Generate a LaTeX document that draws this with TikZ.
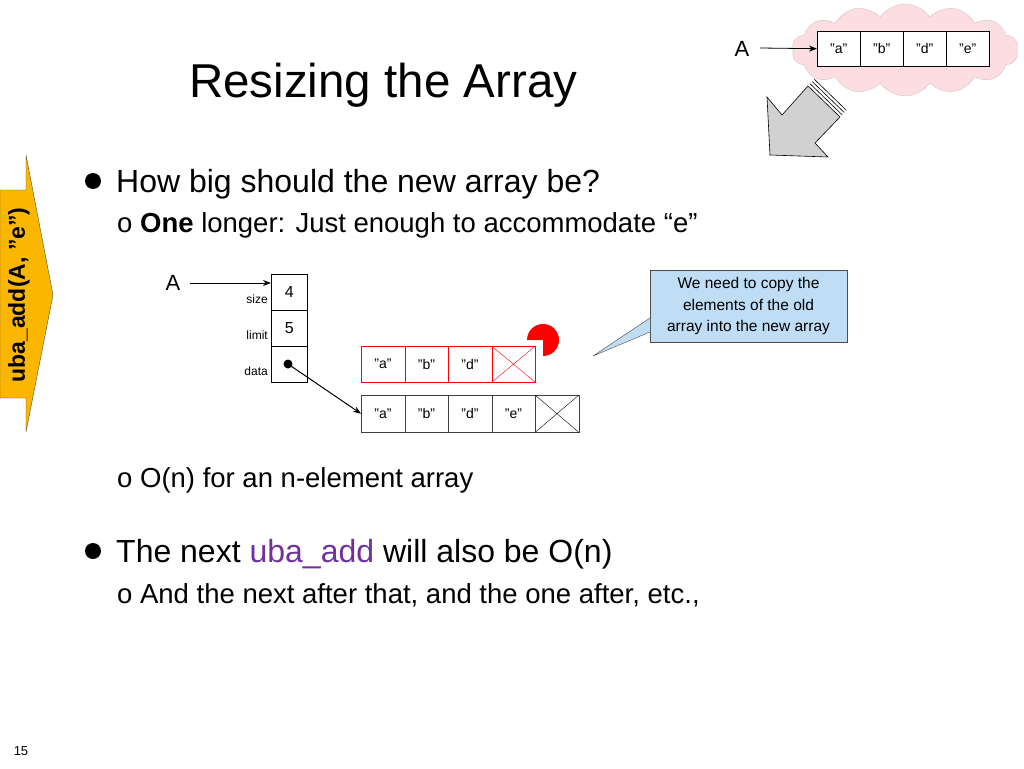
\documentclass[tikz,border=0pt]{standalone}
\usepackage{fontspec}
\setmainfont{Liberation Sans}
\usetikzlibrary{shapes.symbols,arrows.meta}
\definecolor{pinkc}{RGB}{252,222,226}
\definecolor{yel}{RGB}{251,183,0}
\definecolor{callb}{RGB}{191,222,245}
\definecolor{purp}{RGB}{112,48,160}
\begin{document}
\begin{tikzpicture}[x=1pt,y=-1pt,
  cell/.style={draw,minimum width=43.5pt,minimum height=36pt,inner sep=0pt,font=\fontsize{14}{16}\selectfont,anchor=north west},
  scell/.style={draw,minimum width=36pt,minimum height=36pt,inner sep=0pt,font=\fontsize{16}{18}\selectfont,anchor=north west},
  lbl/.style={font=\fontsize{12}{14}\selectfont,anchor=base east,inner sep=0pt},
  big/.style={font=\fontsize{32}{38}\selectfont,anchor=base west,inner sep=0pt},
  sub/.style={font=\fontsize{27.5}{33}\selectfont,anchor=base west,inner sep=0pt},
  ptr/.style={-{Stealth[length=8pt,width=6pt]},line width=1pt}]
\useasboundingbox (0,0) rectangle (1024,768);
% title
\node[font=\fontsize{47.5}{56}\selectfont,anchor=base west,inner sep=0pt] (title) at (189,97) {Resizing the Array};
% cloud
\node[cloud,cloud puffs=14,cloud puff arc=110,aspect=2.6,fill=pinkc,draw=pinkc!70!gray,minimum width=226pt,minimum height=92pt] (cl) at (905,50) {};
\foreach \t [count=\i from 0] in {"a","b","d","e"}
  \node[cell,fill=white,minimum width=43pt,minimum height=35pt] (t\i) at (817+43*\i,31) {\t};
\node[font=\fontsize{22}{26}\selectfont,inner sep=0pt] (tA) at (742,49) {A};
\coordinate (tAs) at (760,48);
\draw[ptr,line width=0.8pt] (tAs) -- (t0.west);
% gray arrow
\draw[fill=black!18,line width=0.6pt] (808,86) -- (782,115) -- (767,97) -- (770,155) -- (828,157) -- (815,143) -- (840,117) -- cycle;
\foreach \d in {3,6,9} \draw[line width=0.6pt] (808+\d*0.7,86-\d*0.75) -- (840+\d*0.7,117-\d*0.75);
% yellow arrow
\draw[fill=yel,draw=black!70] (0,190) -- (26,190) -- (26,155) -- (53,295) -- (26,432) -- (26,398) -- (0,398) -- cycle;
\node[rotate=90,font=\bfseries\fontsize{23}{26}\selectfont,inner sep=0pt] (ua) at (19,295) {uba\_add(A, "e")};
% bullets
\fill (93,181) circle (8);
\node[big] (b1) at (116,192) {How big should the new array be?};
\node[sub] (s1) at (117,232) {o \textbf{One} longer: Just enough to accommodate “e”};
\node[sub] (s2) at (117,487) {o O(n) for an n-element array};
\fill (93,551) circle (8);
\node[big] (b2) at (116,562) {The next \textcolor{purp}{uba\_add} will also be O(n)};
\node[sub] (s3) at (117,603) {o And the next after that, and the one after, etc.,};
\node[font=\fontsize{13}{15}\selectfont] (pg) at (21,751) {15};
% struct
\node[scell] (c1) at (271,274) {4};
\node[scell] (c2) at (271,310) {5};
\node[scell] (c3) at (271,346) {};
\node[lbl] (l1) at (268,303) {size};
\node[lbl] (l2) at (268,339) {limit};
\node[lbl] (l3) at (268,375) {data};
\node[font=\fontsize{22}{26}\selectfont,inner sep=0pt] (A) at (173,283) {A};
\coordinate (As) at (190,283);
\coordinate (Ae) at (271,283);
\draw[ptr] (As) -- (Ae);
\fill (288,364) circle (4.5) coordinate (dot);
% red array
\foreach \t [count=\i from 0] in {"a","b","d",{}}
  \node[cell,draw=red,minimum width=43.5pt] (r\i) at (361+43.5*\i,346) {\t};
\draw[red] (r3.north west) -- (r3.south east) (r3.north east) -- (r3.south west);
% black array
\foreach \t [count=\i from 0] in {"a","b","d","e",{}}
  \node[cell,draw=black!75,minimum width=43.5pt,minimum height=37pt] (k\i) at (361+43.5*\i,395) {\t};
\draw (k4.north west) -- (k4.south east) (k4.north east) -- (k4.south west);
\draw[ptr] (dot) -- (k0.west);
% pacman
\fill[red] (543,340) -- (543,356) arc (90:-180:16) -- cycle;
% callout
\node[draw=black!70,fill=callb,align=center,font=\fontsize{15.5}{21.5}\selectfont,minimum width=197pt,minimum height=72pt,inner sep=1pt] (co) at (748.5,306) {We need to copy the\\elements of the old\\array into the new array};
\coordinate (tip) at (593,356);
\fill[callb] (650,318) -- (tip) -- (650,332) -- cycle;
\draw[black!70] (650,318) -- (tip) -- (650,332);
\end{tikzpicture}
\end{document}
